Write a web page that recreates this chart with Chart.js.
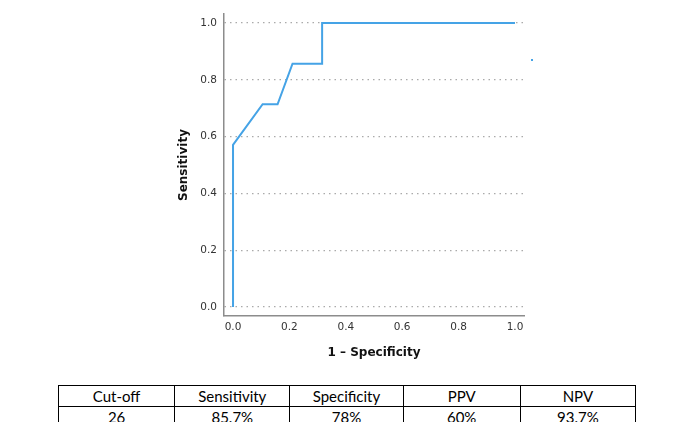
<!DOCTYPE html>
<html>
<head>
<meta charset="utf-8">
<script src="https://cdn.jsdelivr.net/npm/chart.js@4.4.1/dist/chart.umd.min.js"></script>
<style>
  html, body { margin: 0; padding: 0; background: #fff; overflow: hidden; }
  #wrap { position: relative; width: 685px; height: 422px; }
  #chartBox { position: absolute; left: 0; top: 0; width: 685px; height: 370px; }
  #dot { position: absolute; left: 531px; top: 59px; width: 2px; height: 2px; background: #45a3e6; }
  table.stats {
    position: absolute; left: 58px; top: 385px; width: 578px;
    border-collapse: collapse; font-family: Lato, "Open Sans", sans-serif; font-size: 15px; color: #000;
    table-layout: fixed;
  }
  table.stats td { border: 1.5px solid #000; height: 20px; padding: 0; text-align: center; line-height: 20px; }
</style>
</head>
<body>
<div id="wrap">
  <div id="chartBox"><canvas id="roc-chart"></canvas></div>
  <div id="dot"></div>
  <table class="stats" id="stats"></table>
</div>
<script>
// ROC curve points
var fpr = [0, 0, 0.105, 0.158, 0.211, 0.316, 0.316, 1.0];
var tpr = [0, 0.571, 0.714, 0.714, 0.857, 0.857, 1.0, 1.0];
var tickValues = [0, 0.2, 0.4, 0.6, 0.8, 1.0];

// summary table
var tableHeads = ['Cut-off', 'Sensitivity', 'Specificity', 'PPV', 'NPV'];
var tableVals = ['26', '85.7%', '78%', '60%', '93.7%'];
var colWidths = [116, 115, 113, 117, 115];

function buildTable() {
    var t = document.getElementById('stats');
    var cg = '<colgroup>' + colWidths.map(function (w) { return '<col style="width:' + w + 'px">'; }).join('') + '</colgroup>';
    var r1 = '<tr>' + tableHeads.map(function (h) { return '<td>' + h + '</td>'; }).join('') + '</tr>';
    var r2 = '<tr>' + tableVals.map(function (v) { return '<td>' + v + '</td>'; }).join('') + '</tr>';
    t.innerHTML = cg + r1 + r2;
}
buildTable();

var points = fpr.map(function (x, i) { return {x: x, y: tpr[i]}; });
var fixTicks = function (scale) {
    scale.ticks = tickValues.map(function (v) { return {value: v}; });
};
var tickFont = {family: 'DejaVu Sans', size: 10.5};
var titleFont = {family: 'DejaVu Sans', size: 12, weight: 'bold'};

var ctx = document.getElementById('roc-chart');
new Chart(ctx, {
    type: 'scatter',
    data: {
        datasets: [{
            data: points,
            showLine: true,
            borderColor: '#45a3e6',
            borderWidth: 2,
            pointRadius: 0,
            fill: false,
            tension: 0
        }]
    },
    options: {
        responsive: true,
        maintainAspectRatio: false,
        animation: false,
        layout: {padding: {left: 177, right: 161, top: 14, bottom: 8}},
        plugins: {legend: {display: false}, tooltip: {enabled: false}},
        scales: {
            x: {
                type: 'linear',
                min: -0.032, max: 1.032,
                afterBuildTicks: fixTicks,
                afterFit: function (s) { s.height = 46; },
                grid: {display: false, drawTicks: false},
                border: {display: true, color: '#8c8c8c', width: 1.5},
                ticks: {
                    padding: 5, color: '#333', font: tickFont,
                    callback: function (v) { return v.toFixed(1); }
                },
                title: {display: true, text: '1 – Specificity', color: '#111', font: titleFont, padding: {top: 0, bottom: 2}}
            },
            y: {
                type: 'linear',
                min: -0.032, max: 1.032,
                afterBuildTicks: fixTicks,
                afterFit: function (s) { s.width = 47; },
                grid: {display: true, drawTicks: false, color: '#aaaaaa', lineWidth: 1.2},
                border: {display: true, color: '#8c8c8c', width: 1.5, dash: [1.5, 4]},
                ticks: {
                    padding: 7, color: '#333', font: tickFont,
                    callback: function (v) { return v.toFixed(1); }
                },
                title: {display: true, text: 'Sensitivity', color: '#111', font: titleFont, padding: {top: 0, bottom: 0}}
            }
        }
    }
});
</script>
</body>
</html>
